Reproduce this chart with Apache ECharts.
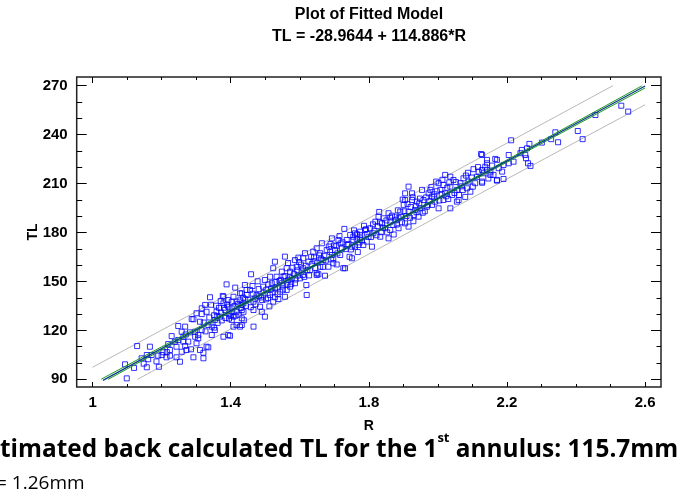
<!DOCTYPE html>
<html><head><meta charset="utf-8">
<script src="https://cdn.jsdelivr.net/npm/echarts@6/dist/echarts.min.js"></script>
<style>html,body{margin:0;padding:0;background:#fff}#c{width:680px;height:502px}</style>
</head><body><div id="c"></div>
<script>
// ---- axis ticks ----
const xMajor = [1, 1.4, 1.8, 2.2, 2.6];
const xMinor = [1.1, 1.2, 1.3, 1.5, 1.6, 1.7, 1.9, 2.0, 2.1, 2.3, 2.4, 2.5];
const yMajor = [90, 120, 150, 180, 210, 240, 270];
const yMinor = [100, 110, 130, 140, 160, 170, 190, 200, 220, 230, 250, 260];
const xRange = [0.954, 2.646];
const yRange = [85.3, 275.3];

const fitLine = [[1.03, 89.37], [2.6, 269.74]];
const confUpper = [[1.025, 90.1], [1.4, 132.6], [1.8, 178.3], [2.2, 224.5], [2.59, 269.8]];
const confLower = [[1.045, 90.0], [1.4, 131.2], [1.8, 177.4], [2.2, 223.1], [2.6, 268.6]];
const predUpper = [[1.0, 97.4], [1.4, 142.9], [1.8, 188.8], [2.2, 234.8], [2.507, 270.0]];
const predLower = [[1.13, 90.0], [1.4, 120.9], [1.8, 166.8], [2.2, 212.8], [2.6, 258.3]];

// ---- observations [R, TL] ----
const obsLow = [
[1.099,90.6],[1.094,99.2],[1.129,110.4],[1.142,102.9],[1.157,104.9],[1.161,102.3],[1.157,97.4],
[1.166,110.0],[1.171,104.9],[1.192,97.7],[1.190,104.5],[1.200,104.9],[1.205,106.6],[1.214,103.5],
[1.224,108.0],[1.224,104.5],[1.219,111.6],[1.229,116.5],[1.243,110.0],[1.243,103.5],[1.253,100.8],
[1.258,106.9],[1.248,122.7],[1.248,114.1],[1.258,119.2],[1.263,116.1],[1.263,113.1],[1.268,122.3],
[1.268,110.4],[1.272,108.0],[1.277,113.1],[1.285,108.4],[1.287,127.0],[1.292,103.5],[1.292,126.8],
[1.297,116.1],[1.297,119.2],[1.301,130.5],[1.301,112.1],[1.306,115.1],[1.306,117.2],[1.311,125.3],
[1.311,108.0],[1.316,130.0],[1.316,120.2],[1.316,133.5],[1.321,106.3],[1.321,102.9],[1.326,135.6],
[1.330,131.4],[1.330,110.0],[1.335,123.3],[1.335,109.6],[1.340,140.3],[1.343,135.7],[1.345,122.3],
[1.345,117.2],[1.354,120.2],[1.354,126.4],[1.359,131.4],[1.369,128.4],[1.377,141.1],[1.379,136.6],
[1.379,116.1],[1.379,140.6],[1.383,132.5],[1.388,148.2],[1.393,134.5],[1.393,117.2],[1.393,138.6],
[1.398,116.7],[1.403,126.4],[1.403,137.6],[1.403,133.5],[1.408,128.4],[1.408,122.3],[1.408,140.6],
[1.413,146.2],[1.417,123.3],[1.417,131.4],[1.417,137.6],[1.427,122.3],[1.427,142.7],[1.432,142.7],
[1.432,123.3],[1.432,127.4],[1.432,135.6],[1.432,132.5],[1.437,131.4],[1.437,136.6],[1.441,147.8],
[1.446,144.8],[1.446,141.7],
[1.322,124.8],[1.338,127.9],[1.352,129.3],[1.362,124.6],[1.366,133.8],[1.372,130.9],[1.385,127.6],
[1.389,135.9],[1.396,130.3],[1.400,128.9],[1.411,134.8],[1.423,129.6],[1.426,138.4],[1.438,126.2],
[1.442,139.1],[1.371,138.0],[1.358,135.1],[1.327,119.4],[1.282,118.8],[1.270,117.5],[1.238,113.0],
[1.215,106.7],[1.185,101.0],[1.148,99.6],[1.120,97.0]
];
const obsMid = [
[1.459,154.4],[1.456,144.8],[1.466,122.3],[1.466,137.6],[1.466,132.5],[1.475,141.7],[1.485,134.5],
[1.490,131.4],[1.494,146.8],[1.499,150.9],[1.499,128.4],[1.514,152.9],[1.514,141.7],[1.519,148.9],
[1.523,158.1],[1.523,137.6],[1.528,145.8],[1.528,162.1],[1.528,140.3],[1.533,152.9],[1.541,150.3],
[1.548,156.0],[1.548,148.9],[1.553,152.9],[1.557,165.2],[1.557,140.6],[1.562,158.1],[1.562,144.8],
[1.572,146.8],[1.572,156.0],[1.577,151.9],[1.586,163.1],[1.586,148.9],[1.591,159.0],[1.596,164.6],
[1.601,151.9],[1.610,164.2],[1.610,158.1],[1.615,167.3],[1.619,147.8],[1.620,141.7],[1.625,162.1],
[1.630,157.0],[1.639,168.2],[1.649,170.3],[1.649,155.0],[1.649,153.9],[1.654,154.4],[1.659,167.3],
[1.659,159.0],[1.664,173.4],[1.668,163.1],[1.673,153.5],[1.678,169.3],[1.683,159.0],[1.693,176.4],
[1.693,166.2],[1.697,161.1],[1.697,164.2],[1.702,169.3],[1.712,175.4],[1.717,166.2],[1.722,170.3],
[1.726,158.1],[1.729,182.2],[1.731,158.1],[1.736,175.4],[1.746,178.5],[1.751,164.2],[1.751,171.3],
[1.755,177.4],[1.755,175.4],[1.760,179.5],[1.760,171.3],[1.770,172.3],[1.775,178.5],[1.775,180.5],
[1.775,176.4],[1.784,172.3],[1.789,181.5],[1.792,182.0],[1.794,174.4],[1.799,177.4],
[1.470,139.5],[1.482,141.0],[1.491,138.6],[1.503,144.9],[1.508,139.8],[1.517,145.4],[1.535,146.2],
[1.543,143.7],[1.552,147.5],[1.567,150.8],[1.575,148.3],[1.583,154.5],[1.594,153.6],[1.605,156.1],
[1.613,152.8],[1.622,156.9],[1.635,160.6],[1.643,162.4],[1.651,161.5],[1.662,163.9],[1.671,165.7],
[1.688,168.1],[1.706,171.6],[1.718,173.3],[1.733,169.8],[1.741,172.9],[1.765,175.9],[1.780,175.1],
[1.463,147.2],[1.478,150.1],[1.512,134.7],[1.538,139.2],[1.566,161.3],[1.598,161.9],[1.641,164.7],
[1.689,172.9],[1.707,160.4],[1.744,165.1],[1.768,168.0]
];
const obsHigh = [
[1.804,182.6],[1.809,171.3],[1.813,179.5],[1.819,186.6],[1.828,189.7],[1.833,177.4],[1.838,185.6],
[1.843,188.7],[1.847,182.6],[1.857,191.8],[1.857,176.4],[1.862,186.6],[1.862,181.5],[1.871,184.6],
[1.876,189.7],[1.886,188.7],[1.886,182.6],[1.891,192.8],[1.901,196.9],[1.905,204.0],[1.905,199.9],
[1.905,185.6],[1.915,208.1],[1.915,192.8],[1.915,183.6],[1.925,204.0],[1.925,199.9],[1.930,190.7],
[1.934,193.8],[1.939,198.9],[1.944,189.7],[1.949,194.8],[1.954,206.1],[1.958,199.9],[1.968,195.8],
[1.973,204.0],[1.978,206.1],[1.983,202.0],[1.983,196.9],[1.992,198.9],[1.995,211.2],[2.002,210.2],
[2.002,194.8],[2.007,206.1],[2.016,209.1],[2.016,199.9],[2.021,215.3],[2.021,204.0],[2.036,214.2],
[2.036,208.1],[2.036,194.8],[2.041,203.0],[2.045,212.2],[2.055,206.1],[2.055,198.9],[2.061,203.0],
[2.065,210.2],[2.074,213.2],[2.084,207.1],[2.089,211.2],[2.094,205.0],[2.103,218.8],[2.108,210.2],
[2.118,217.3],[2.125,228.1],[2.128,210.5],[2.128,227.5],[2.128,218.3],[2.128,211.2],[2.132,216.3],
[2.142,222.4],[2.142,224.5],[2.142,218.3],[2.152,217.3],[2.152,215.3],[2.161,215.3],[2.166,225.1],
[2.171,212.2],[2.171,224.5],[2.171,211.8],[2.176,219.4],[2.186,217.3],[2.190,221.4],[2.190,212.8],
[1.816,181.1],[1.825,183.9],[1.836,180.2],[1.851,187.4],[1.867,190.3],[1.872,178.8],[1.881,184.9],
[1.896,186.3],[1.909,190.1],[1.921,195.6],[1.938,192.4],[1.946,197.8],[1.962,193.0],[1.975,199.1],
[1.988,201.9],[1.997,205.3],[2.011,203.6],[2.027,207.4],[2.048,204.2],[2.069,208.3],[2.081,214.9],
[2.098,213.7],[2.113,214.1],[2.137,220.3],[2.157,221.0],[1.830,192.6],[1.898,200.2],[1.929,186.9],
[2.030,200.5],[2.079,201.8]
];
const obsTop = [
[2.205,222.4],[2.205,227.5],[2.212,236.5],[2.219,223.4],[2.239,228.6],[2.243,230.6],[2.253,227.5],
[2.255,225.5],[2.258,231.6],[2.261,222.4],[2.265,234.3],[2.268,220.8],[2.301,235.1],[2.328,237.2],
[2.340,241.4],[2.348,235.3],[2.405,242.2],[2.419,237.2],[2.456,252.0],[2.531,257.7],[2.551,254.1]
];
const obsDense = [
[1.352,121.7],[1.361,128.8],[1.374,126.1],[1.381,133.9],[1.395,127.2],[1.405,131.1],[1.414,129.0],
[1.421,136.2],[1.429,133.7],[1.436,140.1],[1.444,135.0],[1.451,138.9],[1.458,134.2],[1.464,142.5],
[1.472,136.0],[1.481,145.3],[1.487,140.2],[1.495,143.1],[1.502,139.0],[1.509,148.2],[1.521,143.3],
[1.529,149.7],[1.536,142.1],[1.545,150.8],[1.551,145.0],[1.558,153.3],[1.564,148.1],[1.571,152.6],
[1.579,158.4],[1.588,151.2],[1.593,156.8],[1.603,160.3],[1.609,154.0],[1.617,159.6],[1.627,153.7],
[1.633,165.1],[1.645,158.3],[1.656,166.0],[1.667,158.9],[1.675,162.7],[1.684,171.4],[1.691,163.5],
[1.699,172.0],[1.709,167.2],[1.715,177.8],[1.724,174.0],[1.738,172.4],[1.748,169.6],[1.757,181.3],
[1.766,178.9],[1.773,173.9],[1.786,184.1],[1.795,179.1],[1.806,177.2],[1.812,185.0],[1.822,178.3],
[1.832,186.2],[1.841,183.0],[1.853,180.1],[1.862,189.2],[1.878,187.5],[1.884,193.6],[1.893,189.4],
[1.903,193.0],[1.912,197.5],[1.919,189.0],[1.927,201.6],[1.936,196.3],[1.948,200.8],[1.956,192.1],
[1.966,201.5],[1.971,196.9],[1.981,207.8],[1.990,203.4],[2.004,199.6],[2.013,212.3],[2.024,202.2],
[2.033,210.7],[2.052,210.9],[2.060,199.9],[2.072,206.0],[2.087,216.6],[2.101,208.1],[2.116,220.1],
[2.146,213.1]
];

// ---- texts ----
const titleText = 'Plot of Fitted Model';
const subtitleText = 'TL = -28.9644 + 114.886*R';
const xName = 'R';
const yName = 'TL';
const note1a = 'timated back calculated TL for the 1';
const note1sup = 'st';
const note1b = ' annulus: 115.7mm';
const note2 = '= 1.26mm';

const chart = echarts.init(document.getElementById('c'), null, {renderer: 'canvas'});
const FAM = 'Liberation Sans, Arial, sans-serif';
const labFont = {fontFamily: FAM, fontWeight: 'bold', fontSize: 15, color: '#000'};
const NOTEFAM = 'Open Sans, Noto Sans, sans-serif';
const G = {left: 76.7, right: 19, top: 77, bottom: 115};

function xAx(pos, ticks, len, labels) {
  return {
    type: 'value', position: pos, min: xRange[0], max: xRange[1], gridIndex: 0,
    axisLine: {show: false}, splitLine: {show: false},
    axisTick: {show: true, inside: true, length: len, customValues: ticks, lineStyle: {color: '#000', width: 1}},
    axisLabel: labels ? Object.assign({show: true, customValues: xMajor, margin: 8, formatter: v => String(+v.toFixed(1))}, labFont) : {show: false},
    name: labels ? xName : '', nameLocation: 'middle', nameGap: 32,
    nameTextStyle: {fontFamily: FAM, fontWeight: 'bold', fontSize: 14, color: '#000'}
  };
}
function yAx(pos, ticks, len, labels) {
  return {
    type: 'value', position: pos, min: yRange[0], max: yRange[1], gridIndex: 0,
    axisLine: {show: false}, splitLine: {show: false},
    axisTick: {show: true, inside: true, length: len, customValues: ticks, lineStyle: {color: '#000', width: 1}},
    axisLabel: labels ? Object.assign({show: true, customValues: yMajor, margin: 9, formatter: v => String(Math.round(v))}, labFont) : {show: false},
    name: labels ? yName : '', nameLocation: 'middle', nameGap: 37, nameMoveOverlap: false,
    nameTextStyle: {fontFamily: FAM, fontWeight: 'bold', fontSize: 14, color: '#000'}
  };
}

const scatterStyle = {color: 'rgba(0,0,0,0)', borderColor: '#0000ff', borderWidth: 1};
function sc(data) {
  return {type: 'scatter', data: data, symbol: 'rect', symbolSize: 5, itemStyle: scatterStyle, z: 3, silent: true};
}
function ln(data, color, width, z) {
  return {type: 'line', data: data, showSymbol: false, symbol: 'none', lineStyle: {color: color, width: width}, z: z, silent: true};
}

chart.setOption({
  animation: false,
  backgroundColor: '#fff',
  title: [
    {text: titleText, left: 369, top: 7, padding: 0, textAlign: 'center', textStyle: {fontFamily: FAM, fontWeight: 'bold', fontSize: 16, color: '#000'}},
    {text: subtitleText, left: 369, top: 29, padding: 0, textAlign: 'center', textStyle: {fontFamily: FAM, fontWeight: 'bold', fontSize: 16, color: '#000'}},
    {text: '{a|' + note1a + '}{s|' + note1sup + '}{a|' + note1b + '}', left: 0, top: 432, padding: 0,
      textStyle: {rich: {
        a: {fontFamily: NOTEFAM, fontWeight: 'bold', fontSize: 24.4, color: '#000', verticalAlign: 'bottom', lineHeight: 30},
        s: {fontFamily: NOTEFAM, fontWeight: 'bold', fontSize: 13, color: '#000', verticalAlign: 'top', lineHeight: 30, padding: [0,0,12,0]}
      }}},
    {text: note2, left: -4, top: 470, padding: 0, textStyle: {fontFamily: NOTEFAM, fontWeight: 'normal', fontSize: 19, color: '#000', lineHeight: 28}}
  ],
  grid: {left: G.left, right: G.right, top: G.top, bottom: G.bottom, show: true, borderColor: '#222', borderWidth: 1.5, backgroundColor: 'transparent'},
  xAxis: [xAx('bottom', xMajor, 5, true), xAx('bottom', xMinor, 3, false), xAx('top', xMajor, 6, false), xAx('top', xMinor, 3, false)],
  yAxis: [yAx('left', yMajor, 10, true), yAx('left', yMinor, 5.5, false), yAx('right', yMajor, 10, false), yAx('right', yMinor, 4.5, false)],
  series: [
    ln(predUpper, '#b9b9b9', 1, 1),
    ln(predLower, '#b9b9b9', 1, 1),
    sc(obsLow), sc(obsMid), sc(obsHigh), sc(obsTop), sc(obsDense),
    ln(confUpper, '#1e9a1e', 1, 4),
    ln(confLower, '#1e9a1e', 1, 4),
    ln(fitLine, '#0a3a8a', 1.2, 5)
  ]
});
</script>
</body></html>
